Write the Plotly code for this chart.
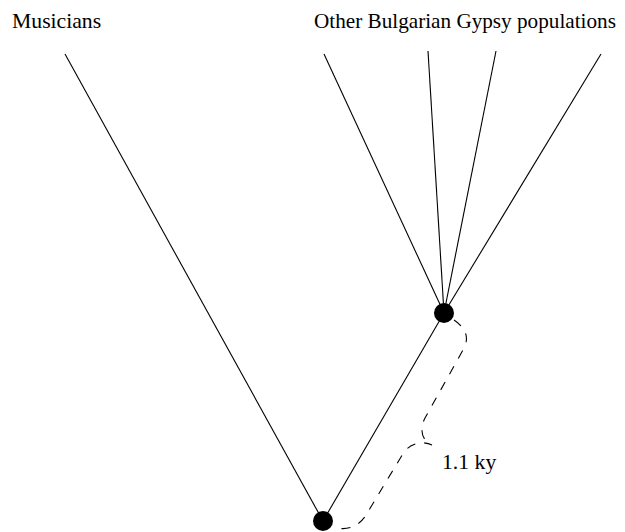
import plotly.graph_objects as go

# Node positions (pixel-space diagram coordinates)
root = (323, 521)
node = (444, 313)
musicians_tip = (65, 54)
other_tips_x = [324, 428, 496, 601]
other_tips_y = [54, 51, 51, 54]
labels = ["Musicians", "Other Bulgarian Gypsy populations"]
label_x = [10, 312]
label_y = [21, 21]
label_size = [21.7, 21.2]
brace_label = "1.1 ky"

fig = go.Figure()
line = dict(color="black", width=1.1)

fig.add_trace(go.Scatter(x=[root[0], musicians_tip[0]], y=[root[1], musicians_tip[1]],
                         mode="lines", line=line, hoverinfo="skip", cliponaxis=False))
fig.add_trace(go.Scatter(x=[root[0], node[0]], y=[root[1], node[1]],
                         mode="lines", line=line, hoverinfo="skip", cliponaxis=False))
for tx, ty in zip(other_tips_x, other_tips_y):
    fig.add_trace(go.Scatter(x=[node[0], tx], y=[node[1], ty],
                             mode="lines", line=line, hoverinfo="skip", cliponaxis=False))
fig.add_trace(go.Scatter(x=[root[0], node[0]], y=[root[1], node[1]], mode="markers",
                         marker=dict(color="black", size=20), hoverinfo="skip",
                         cliponaxis=False))

path = ("M 454 320 C 466 328, 470 338, 463 350 "
        "L 425 418 C 418 432, 424 442, 432 445 "
        "C 424 441, 412 442, 404 452 "
        "L 366 515 C 358 528, 345 531, 333 527")
fig.add_shape(type="path", path=path, xref="x", yref="y",
              line=dict(color="black", width=1.1, dash="dash"))

for t, x, y, s in zip(labels, label_x, label_y, label_size):
    fig.add_annotation(x=x, y=y, text=t, showarrow=False, xanchor="left",
                       yanchor="middle",
                       font=dict(family="Liberation Serif", size=s, color="black"))
fig.add_annotation(x=440, y=462, text=brace_label, showarrow=False, xanchor="left",
                   yanchor="middle",
                   font=dict(family="Liberation Serif", size=21.7, color="black"))

# page body has an 8px margin; size the figure so data coords equal window pixels
fig.update_layout(width=617, height=524, margin=dict(l=0, r=0, t=0, b=0),
                  plot_bgcolor="white", paper_bgcolor="white", showlegend=False,
                  xaxis=dict(range=[8, 625], visible=False, fixedrange=True),
                  yaxis=dict(range=[532, 8], visible=False, fixedrange=True))
fig.write_html("out.html", config={"displayModeBar": False})
